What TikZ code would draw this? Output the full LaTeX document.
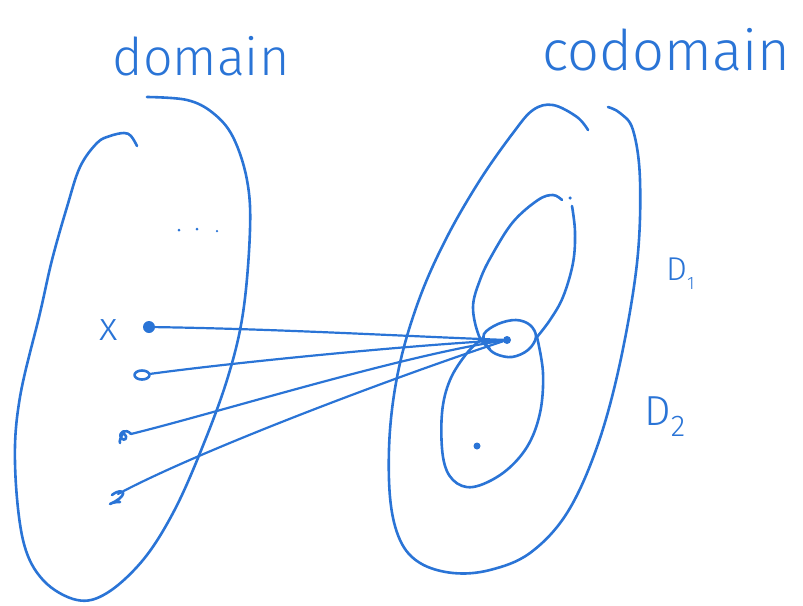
\documentclass[tikz,border=0pt]{standalone}
\usepackage{fontspec}
\setmainfont{Fira Sans}[UprightFont={* Light}]
\usetikzlibrary{shapes.geometric}
\definecolor{pen}{RGB}{42,116,214}
\begin{document}
\begin{tikzpicture}[x=1pt,y=-1pt,line cap=round,line join=round,
  ink/.style={draw=pen,line width=2.6pt},
  link/.style={draw=pen,line width=2.2pt},
  lbl/.style={text=pen,inner sep=0pt,anchor=base},
  speck/.style={circle,fill=pen,inner sep=0pt,minimum size=#1}]
\useasboundingbox (0,0) rectangle (803,605);

% headings
\node[lbl,font=\fontsize{52}{60}\selectfont] (dom) at (201,75) {domain};
\node[lbl,font=\fontsize{56}{64}\selectfont] (cod) at (666,70) {codomain};

% domain set
\draw[ink] plot[smooth,tension=0.6] coordinates {(137,146) (131,136) (124,133) (110,136) (97,143)
  (80,167) (67,207) (52,260) (40,313) (20,397) (15,463) (23,540) (43,580) (77,600) (107,593)
  (143,560) (173,513) (200,453) (227,380) (243,313) (250,230) (247,180) (233,137) (213,113)
  (187,100) (147,97)};

% codomain set
\draw[ink] plot[smooth,tension=0.6] coordinates {(588,130) (577,117) (553,105) (533,110) (513,133)
  (480,180) (447,237) (420,297) (400,363) (390,430) (390,497) (400,540) (420,563) (453,573)
  (490,570) (530,553) (567,513) (597,447) (620,363) (637,263) (640,180) (633,130) (620,113)
  (608,107)};

% D1
\draw[ink] plot[smooth,tension=0.6] coordinates {(490,349) (479,336) (473,307) (480,280) (492,255)
  (513,222) (538,200) (553,195) (562,200)};
\draw[ink] plot[smooth,tension=0.6] coordinates {(572,206) (575,232) (573,263) (563,297) (550,320)
  (537,337)};
\node[speck=3.5pt] (top) at (570,198) {};

% D2
\draw[ink] plot[smooth,tension=0.6] coordinates {(537,337) (543,373) (540,413) (527,447) (503,473)
  (473,487) (453,480) (443,457) (442,413) (450,380) (467,353) (483,338)};
\node[speck=7pt] (inner) at (477,446) {};

% small loop around the common image
\draw[ink] plot[smooth cycle,tension=0.6] coordinates {(484,334) (498,324) (516,320) (530,325)
  (536,337) (528,350) (512,357) (496,354) (487,346)};
\node[speck=8pt] (hub) at (507,340) {};

% elements of the domain
\node[lbl,font=\fontsize{40}{44}\selectfont] (xl) at (109,340) {x};
\node[speck=12pt] (p1) at (149,327) {};
\node[ellipse,draw=pen,line width=2.6pt,inner sep=0pt,minimum width=15pt,minimum height=9pt] (p2) at (142,375) {};
\coordinate (p3) at (131,434);
\draw[ink] (p3) .. controls (126,428) and (118,432) .. (121,438) .. controls (124,442) and (130,438) .. (123,433)
  .. controls (121,437) and (119,441) .. (120,443);
\coordinate (p4) at (118,494);
\draw[ink] (112,495) .. controls (118,490) and (126,490) .. (122,496) .. controls (119,500) and (112,503) .. (110,504)
  .. controls (113,502) and (118,502) .. (120,502);

% ellipsis
\node[speck=3pt] (e1) at (179,230) {};
\node[speck=3pt] (e2) at (197,229) {};
\node[speck=2.5pt] (e3) at (217,231) {};

% mapping lines
\draw[link] (p1) .. controls (280,329) and (400,336) .. (hub);
\draw[link] (p2) .. controls (230,363) and (400,346) .. (hub);
\draw[link] (p3) .. controls (220,412) and (400,356) .. (hub);
\draw[link] (p4) .. controls (200,450) and (400,375) .. (hub);

% set labels
\node[lbl,anchor=base west,font=\fontsize{33}{36}\selectfont] (D1) at (666,280)
  {D\raisebox{-9pt}{\fontsize{18}{18}\selectfont 1}};
\node[lbl,anchor=base west,font=\fontsize{42}{46}\selectfont] (D2) at (644,425)
  {D\raisebox{-11pt}{\fontsize{30}{30}\selectfont 2}};
\end{tikzpicture}
\end{document}
